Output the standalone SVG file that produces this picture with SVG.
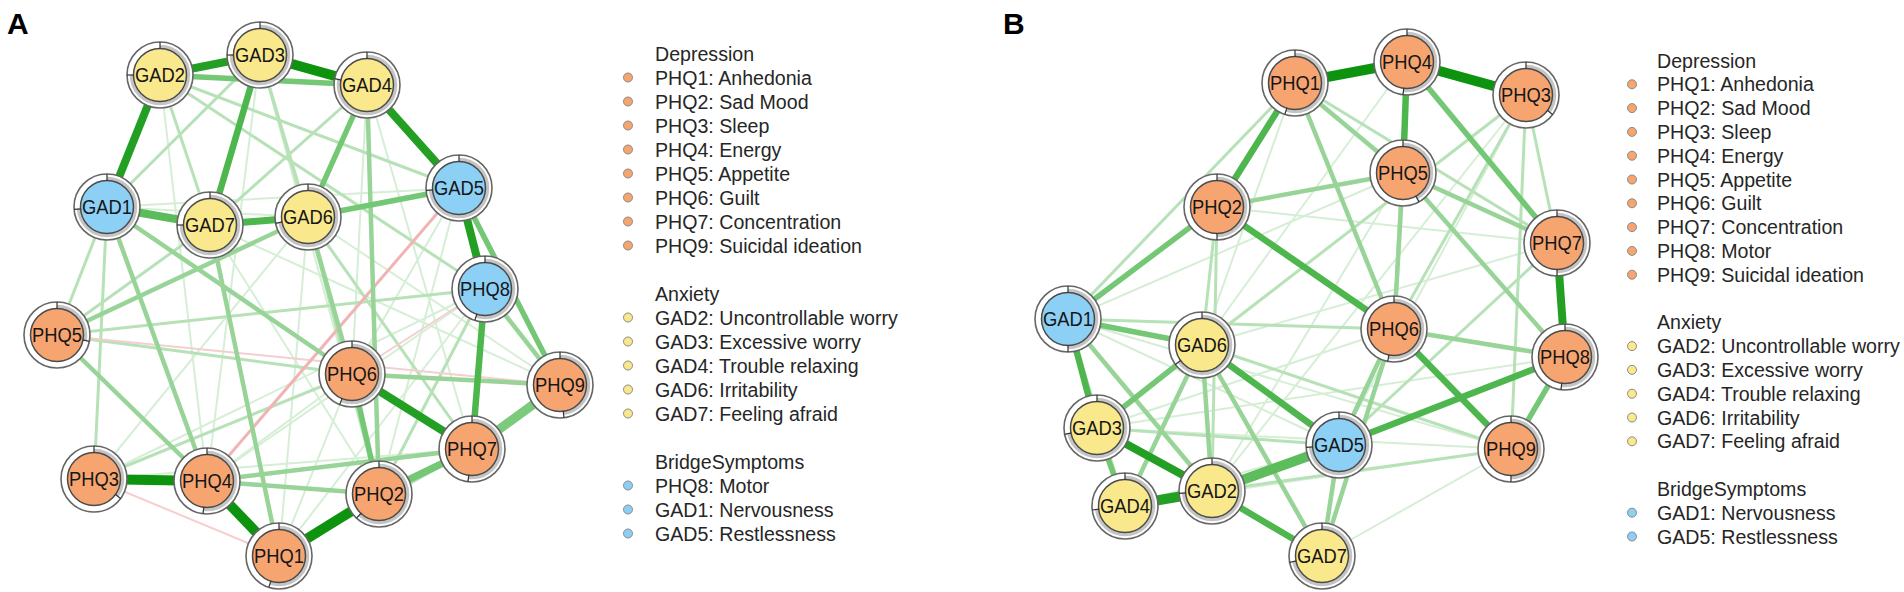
<svg xmlns="http://www.w3.org/2000/svg" width="1904" height="592" viewBox="0 0 1904 592">
<style>
.lbl{font-family:"Liberation Sans",Arial,sans-serif;font-size:20px;fill:#161616;text-anchor:middle}
.leg{font-family:"Liberation Sans",Arial,sans-serif;font-size:19.6px;fill:#262626}
.panel{font-family:"Liberation Sans",Arial,sans-serif;font-size:30px;font-weight:bold;fill:#000}
.outer{fill:#fff;stroke:#666;stroke-width:1.6}
.pie{fill:none;stroke:#c4c4c4;stroke-width:3.5}
.core{stroke:#4a4a4a;stroke-width:1.5}
.dep .core,.ld.dep{fill:#F6A571}
.anx .core,.ld.anx{fill:#FAE88C}
.brg .core,.ld.brg{fill:#8DD0F6}
.ld{stroke:#8a8a8a;stroke-width:1}
.tick{stroke:#333;stroke-width:1.2}
.e0{stroke:#d6eed6;stroke-width:2}
.e1{stroke:#b7e2b7;stroke-width:3}
.e2{stroke:#98d498;stroke-width:4.5}
.e3l{stroke:#74c774;stroke-width:5.5}
.e3{stroke:#4db64d;stroke-width:6.5}
.e4{stroke:#23a023;stroke-width:8}
.e5{stroke:#0e930e;stroke-width:10}
.n1{stroke:#f0b4b4;stroke-width:3}
.n0{stroke:#f5cfcf;stroke-width:2}
</style>

<text class="panel" x="7" y="34">A</text>
<text class="panel" x="1003" y="34">B</text>

<g id="edges-A">
<line class="e0" x1="107" y1="207" x2="308" y2="217"/>
<line class="e0" x1="107" y1="207" x2="459" y2="188"/>
<line class="e0" x1="260" y1="55" x2="379" y2="494"/>
<line class="e0" x1="367" y1="85" x2="472" y2="449"/>
<line class="e0" x1="308" y1="217" x2="560" y2="385"/>
<line class="e0" x1="94" y1="479" x2="485" y2="289"/>
<line class="e0" x1="207" y1="481" x2="352" y2="374"/>
<line class="e0" x1="94" y1="479" x2="472" y2="449"/>
<line class="e0" x1="210" y1="225" x2="379" y2="494"/>
<line class="e0" x1="308" y1="217" x2="279" y2="556"/>
<line class="e0" x1="279" y1="556" x2="352" y2="374"/>
<line class="e0" x1="459" y1="188" x2="352" y2="374"/>
<line class="e0" x1="459" y1="188" x2="379" y2="494"/>
<line class="e0" x1="367" y1="85" x2="352" y2="374"/>
<line class="e0" x1="260" y1="55" x2="207" y2="481"/>
<line class="e0" x1="94" y1="479" x2="308" y2="217"/>
<line class="e0" x1="160" y1="75" x2="207" y2="481"/>
<line class="e0" x1="207" y1="481" x2="485" y2="289"/>
<line class="e0" x1="210" y1="225" x2="560" y2="385"/>
<line class="e0" x1="279" y1="556" x2="485" y2="289"/>
<line class="e1" x1="260" y1="55" x2="107" y2="207"/>
<line class="e1" x1="160" y1="75" x2="210" y2="225"/>
<line class="e1" x1="260" y1="55" x2="308" y2="217"/>
<line class="e1" x1="367" y1="85" x2="210" y2="225"/>
<line class="e1" x1="107" y1="207" x2="94" y2="479"/>
<line class="e1" x1="107" y1="207" x2="57" y2="335"/>
<line class="e1" x1="57" y1="335" x2="352" y2="374"/>
<line class="e1" x1="94" y1="479" x2="352" y2="374"/>
<line class="e1" x1="160" y1="75" x2="485" y2="289"/>
<line class="e1" x1="485" y1="289" x2="379" y2="494"/>
<line class="e1" x1="57" y1="335" x2="210" y2="225"/>
<line class="e1" x1="308" y1="217" x2="379" y2="494"/>
<line class="e1" x1="160" y1="75" x2="459" y2="188"/>
<line class="e1" x1="260" y1="55" x2="352" y2="374"/>
<line class="e1" x1="279" y1="556" x2="472" y2="449"/>
<line class="e1" x1="57" y1="335" x2="485" y2="289"/>
<line class="e1" x1="308" y1="217" x2="472" y2="449"/>
<line class="n0" x1="94" y1="479" x2="279" y2="556"/>
<line class="n0" x1="57" y1="335" x2="560" y2="385"/>
<line class="n0" x1="485" y1="289" x2="352" y2="374"/>
<line class="n1" x1="459" y1="188" x2="207" y2="481"/>
<line class="e2" x1="485" y1="289" x2="560" y2="385"/>
<line class="e2" x1="308" y1="217" x2="57" y2="335"/>
<line class="e2" x1="207" y1="481" x2="472" y2="449"/>
<line class="e2" x1="352" y1="374" x2="560" y2="385"/>
<line class="e2" x1="107" y1="207" x2="352" y2="374"/>
<line class="e2" x1="367" y1="85" x2="379" y2="494"/>
<line class="e2" x1="210" y1="225" x2="279" y2="556"/>
<line class="e2" x1="107" y1="207" x2="207" y2="481"/>
<line class="e2" x1="308" y1="217" x2="352" y2="374"/>
<line class="e2" x1="207" y1="481" x2="379" y2="494"/>
<line class="e2" x1="57" y1="335" x2="207" y2="481"/>
<line class="e3l" x1="308" y1="217" x2="459" y2="188"/>
<line class="e3l" x1="367" y1="85" x2="308" y2="217"/>
<line class="e3l" x1="160" y1="75" x2="367" y2="85"/>
<line class="e3l" x1="459" y1="188" x2="560" y2="385"/>
<line class="e3l" x1="379" y1="494" x2="472" y2="449" style="stroke-width:7"/>
<line class="e3l" x1="352" y1="374" x2="379" y2="494"/>
<line class="e3" x1="260" y1="55" x2="210" y2="225"/>
<line class="e3" x1="107" y1="207" x2="210" y2="225" style="stroke-width:8;stroke:#5cbc5c"/>
<line class="e3" x1="210" y1="225" x2="308" y2="217" style="stroke-width:7"/>
<line class="e3" x1="485" y1="289" x2="472" y2="449"/>
<line class="e3" x1="560" y1="385" x2="472" y2="449" style="stroke-width:9;stroke:#7ccb7c"/>
<line class="e4" x1="160" y1="75" x2="260" y2="55"/>
<line class="e4" x1="160" y1="75" x2="107" y2="207"/>
<line class="e4" x1="367" y1="85" x2="459" y2="188"/>
<line class="e4" x1="352" y1="374" x2="472" y2="449"/>
<line class="e4" x1="459" y1="188" x2="485" y2="289"/>
<line class="e5" x1="260" y1="55" x2="367" y2="85"/>
<line class="e5" x1="94" y1="479" x2="207" y2="481"/>
<line class="e5" x1="207" y1="481" x2="279" y2="556"/>
<line class="e5" x1="279" y1="556" x2="379" y2="494"/>
</g>

<g id="edges-B">
<line class="e0" x1="1526" y1="95" x2="1339" y2="445"/>
<line class="e0" x1="1407" y1="62" x2="1202" y2="345"/>
<line class="e0" x1="1068" y1="319" x2="1339" y2="445"/>
<line class="e0" x1="1068" y1="319" x2="1511" y2="449"/>
<line class="e0" x1="1097" y1="428" x2="1511" y2="449"/>
<line class="e0" x1="1097" y1="428" x2="1394" y2="329"/>
<line class="e0" x1="1125" y1="506" x2="1339" y2="445"/>
<line class="e0" x1="1322" y1="556" x2="1511" y2="449"/>
<line class="e0" x1="1403" y1="173" x2="1212" y2="491"/>
<line class="e0" x1="1295" y1="83" x2="1202" y2="345"/>
<line class="e0" x1="1403" y1="173" x2="1068" y2="319"/>
<line class="e0" x1="1557" y1="243" x2="1202" y2="345"/>
<line class="e0" x1="1565" y1="357" x2="1097" y2="428"/>
<line class="e0" x1="1217" y1="207" x2="1557" y2="243"/>
<line class="e0" x1="1526" y1="95" x2="1212" y2="491"/>
<line class="e0" x1="1511" y1="449" x2="1125" y2="506"/>
<line class="e1" x1="1526" y1="95" x2="1557" y2="243"/>
<line class="e1" x1="1295" y1="83" x2="1557" y2="243"/>
<line class="e1" x1="1526" y1="95" x2="1394" y2="329"/>
<line class="e1" x1="1526" y1="95" x2="1511" y2="449"/>
<line class="e1" x1="1557" y1="243" x2="1339" y2="445"/>
<line class="e1" x1="1068" y1="319" x2="1295" y2="83"/>
<line class="e1" x1="1068" y1="319" x2="1394" y2="329"/>
<line class="e1" x1="1217" y1="207" x2="1202" y2="345"/>
<line class="e1" x1="1217" y1="207" x2="1212" y2="491"/>
<line class="e1" x1="1097" y1="428" x2="1339" y2="445"/>
<line class="e1" x1="1068" y1="319" x2="1125" y2="506"/>
<line class="e1" x1="1511" y1="449" x2="1212" y2="491"/>
<line class="e1" x1="1407" y1="62" x2="1394" y2="329"/>
<line class="e1" x1="1511" y1="449" x2="1202" y2="345"/>
<line class="e1" x1="1526" y1="95" x2="1202" y2="345"/>
<line class="e2" x1="1202" y1="345" x2="1125" y2="506"/>
<line class="e2" x1="1068" y1="319" x2="1212" y2="491"/>
<line class="e2" x1="1339" y1="445" x2="1322" y2="556"/>
<line class="e2" x1="1394" y1="329" x2="1322" y2="556"/>
<line class="e2" x1="1339" y1="445" x2="1394" y2="329"/>
<line class="e2" x1="1403" y1="173" x2="1394" y2="329"/>
<line class="e2" x1="1403" y1="173" x2="1565" y2="357"/>
<line class="e2" x1="1403" y1="173" x2="1557" y2="243"/>
<line class="e2" x1="1295" y1="83" x2="1403" y2="173"/>
<line class="e2" x1="1295" y1="83" x2="1394" y2="329"/>
<line class="e2" x1="1217" y1="207" x2="1403" y2="173"/>
<line class="e2" x1="1394" y1="329" x2="1565" y2="357"/>
<line class="e2" x1="1202" y1="345" x2="1212" y2="491"/>
<line class="e2" x1="1202" y1="345" x2="1322" y2="556"/>
<line class="e3l" x1="1217" y1="207" x2="1068" y2="319"/>
<line class="e3l" x1="1407" y1="62" x2="1557" y2="243"/>
<line class="e3l" x1="1565" y1="357" x2="1511" y2="449"/>
<line class="e3l" x1="1068" y1="319" x2="1202" y2="345"/>
<line class="e3l" x1="1202" y1="345" x2="1097" y2="428"/>
<line class="e3l" x1="1097" y1="428" x2="1125" y2="506"/>
<line class="e3" x1="1407" y1="62" x2="1403" y2="173"/>
<line class="e3" x1="1394" y1="329" x2="1511" y2="449"/>
<line class="e3" x1="1212" y1="491" x2="1339" y2="445" style="stroke-width:10;stroke:#5dbd5d"/>
<line class="e3" x1="1295" y1="83" x2="1217" y2="207"/>
<line class="e3" x1="1068" y1="319" x2="1097" y2="428"/>
<line class="e3" x1="1212" y1="491" x2="1322" y2="556"/>
<line class="e3" x1="1202" y1="345" x2="1339" y2="445"/>
<line class="e3" x1="1339" y1="445" x2="1565" y2="357"/>
<line class="e3" x1="1217" y1="207" x2="1394" y2="329"/>
<line class="e4" x1="1557" y1="243" x2="1565" y2="357"/>
<line class="e4" x1="1125" y1="506" x2="1212" y2="491" style="stroke-width:10"/>
<line class="e4" x1="1097" y1="428" x2="1212" y2="491"/>
<line class="e5" x1="1295" y1="83" x2="1407" y2="62"/>
<line class="e5" x1="1407" y1="62" x2="1526" y2="95"/>
</g>

<!-- Panel A nodes -->
<g id="A-GAD2" class="anx" transform="translate(160,75)"><circle class="outer" r="33"/><circle class="pie" r="28.5" pathLength="100" stroke-dasharray="75 100" transform="rotate(-90)"/><circle class="core" r="26.5"/><line class="tick" y1="-26" y2="-33"/><line class="tick" y1="-26" y2="-33" transform="rotate(270)"/><text class="lbl" y="7" textLength="50" lengthAdjust="spacingAndGlyphs">GAD2</text></g>
<g id="A-GAD3" class="anx" transform="translate(260,55)"><circle class="outer" r="33"/><circle class="pie" r="28.5" pathLength="100" stroke-dasharray="75 100" transform="rotate(-90)"/><circle class="core" r="26.5"/><line class="tick" y1="-26" y2="-33"/><line class="tick" y1="-26" y2="-33" transform="rotate(270)"/><text class="lbl" y="7" textLength="50" lengthAdjust="spacingAndGlyphs">GAD3</text></g>
<g id="A-GAD4" class="anx" transform="translate(367,85)"><circle class="outer" r="33"/><circle class="pie" r="28.5" pathLength="100" stroke-dasharray="78 100" transform="rotate(-90)"/><circle class="core" r="26.5"/><line class="tick" y1="-26" y2="-33"/><line class="tick" y1="-26" y2="-33" transform="rotate(281)"/><text class="lbl" y="7" textLength="50" lengthAdjust="spacingAndGlyphs">GAD4</text></g>
<g id="A-GAD1" class="brg" transform="translate(107,207)"><circle class="outer" r="33"/><circle class="pie" r="28.5" pathLength="100" stroke-dasharray="74 100" transform="rotate(-90)"/><circle class="core" r="26.5"/><line class="tick" y1="-26" y2="-33"/><line class="tick" y1="-26" y2="-33" transform="rotate(266)"/><text class="lbl" y="7" textLength="50" lengthAdjust="spacingAndGlyphs">GAD1</text></g>
<g id="A-GAD7" class="anx" transform="translate(210,225)"><circle class="outer" r="33"/><circle class="pie" r="28.5" pathLength="100" stroke-dasharray="75 100" transform="rotate(-90)"/><circle class="core" r="26.5"/><line class="tick" y1="-26" y2="-33"/><line class="tick" y1="-26" y2="-33" transform="rotate(270)"/><text class="lbl" y="7" textLength="50" lengthAdjust="spacingAndGlyphs">GAD7</text></g>
<g id="A-GAD6" class="anx" transform="translate(308,217)"><circle class="outer" r="33"/><circle class="pie" r="28.5" pathLength="100" stroke-dasharray="72 100" transform="rotate(-90)"/><circle class="core" r="26.5"/><line class="tick" y1="-26" y2="-33"/><line class="tick" y1="-26" y2="-33" transform="rotate(259)"/><text class="lbl" y="7" textLength="50" lengthAdjust="spacingAndGlyphs">GAD6</text></g>
<g id="A-GAD5" class="brg" transform="translate(459,188)"><circle class="outer" r="33"/><circle class="pie" r="28.5" pathLength="100" stroke-dasharray="74 100" transform="rotate(-90)"/><circle class="core" r="26.5"/><line class="tick" y1="-26" y2="-33"/><line class="tick" y1="-26" y2="-33" transform="rotate(266)"/><text class="lbl" y="7" textLength="50" lengthAdjust="spacingAndGlyphs">GAD5</text></g>
<g id="A-PHQ8" class="brg" transform="translate(485,289)"><circle class="outer" r="33"/><circle class="pie" r="28.5" pathLength="100" stroke-dasharray="55 100" transform="rotate(-90)"/><circle class="core" r="26.5"/><line class="tick" y1="-26" y2="-33"/><line class="tick" y1="-26" y2="-33" transform="rotate(198)"/><text class="lbl" y="7" textLength="50" lengthAdjust="spacingAndGlyphs">PHQ8</text></g>
<g id="A-PHQ5" class="dep" transform="translate(57,335)"><circle class="outer" r="33"/><circle class="pie" r="28.5" pathLength="100" stroke-dasharray="28 100" transform="rotate(-90)"/><circle class="core" r="26.5"/><line class="tick" y1="-26" y2="-33"/><line class="tick" y1="-26" y2="-33" transform="rotate(101)"/><text class="lbl" y="7" textLength="50" lengthAdjust="spacingAndGlyphs">PHQ5</text></g>
<g id="A-PHQ6" class="dep" transform="translate(352,374)"><circle class="outer" r="33"/><circle class="pie" r="28.5" pathLength="100" stroke-dasharray="56 100" transform="rotate(-90)"/><circle class="core" r="26.5"/><line class="tick" y1="-26" y2="-33"/><line class="tick" y1="-26" y2="-33" transform="rotate(202)"/><text class="lbl" y="7" textLength="50" lengthAdjust="spacingAndGlyphs">PHQ6</text></g>
<g id="A-PHQ9" class="dep" transform="translate(560,385)"><circle class="outer" r="33"/><circle class="pie" r="28.5" pathLength="100" stroke-dasharray="48 100" transform="rotate(-90)"/><circle class="core" r="26.5"/><line class="tick" y1="-26" y2="-33"/><line class="tick" y1="-26" y2="-33" transform="rotate(173)"/><text class="lbl" y="7" textLength="50" lengthAdjust="spacingAndGlyphs">PHQ9</text></g>
<g id="A-PHQ7" class="dep" transform="translate(472,449)"><circle class="outer" r="33"/><circle class="pie" r="28.5" pathLength="100" stroke-dasharray="52 100" transform="rotate(-90)"/><circle class="core" r="26.5"/><line class="tick" y1="-26" y2="-33"/><line class="tick" y1="-26" y2="-33" transform="rotate(187)"/><text class="lbl" y="7" textLength="50" lengthAdjust="spacingAndGlyphs">PHQ7</text></g>
<g id="A-PHQ3" class="dep" transform="translate(94,479)"><circle class="outer" r="33"/><circle class="pie" r="28.5" pathLength="100" stroke-dasharray="35 100" transform="rotate(-90)"/><circle class="core" r="26.5"/><line class="tick" y1="-26" y2="-33"/><line class="tick" y1="-26" y2="-33" transform="rotate(126)"/><text class="lbl" y="7" textLength="50" lengthAdjust="spacingAndGlyphs">PHQ3</text></g>
<g id="A-PHQ4" class="dep" transform="translate(207,481)"><circle class="outer" r="33"/><circle class="pie" r="28.5" pathLength="100" stroke-dasharray="52 100" transform="rotate(-90)"/><circle class="core" r="26.5"/><line class="tick" y1="-26" y2="-33"/><line class="tick" y1="-26" y2="-33" transform="rotate(187)"/><text class="lbl" y="7" textLength="50" lengthAdjust="spacingAndGlyphs">PHQ4</text></g>
<g id="A-PHQ2" class="dep" transform="translate(379,494)"><circle class="outer" r="33"/><circle class="pie" r="28.5" pathLength="100" stroke-dasharray="62 100" transform="rotate(-90)"/><circle class="core" r="26.5"/><line class="tick" y1="-26" y2="-33"/><line class="tick" y1="-26" y2="-33" transform="rotate(223)"/><text class="lbl" y="7" textLength="50" lengthAdjust="spacingAndGlyphs">PHQ2</text></g>
<g id="A-PHQ1" class="dep" transform="translate(279,556)"><circle class="outer" r="33"/><circle class="pie" r="28.5" pathLength="100" stroke-dasharray="55 100" transform="rotate(-90)"/><circle class="core" r="26.5"/><line class="tick" y1="-26" y2="-33"/><line class="tick" y1="-26" y2="-33" transform="rotate(198)"/><text class="lbl" y="7" textLength="50" lengthAdjust="spacingAndGlyphs">PHQ1</text></g>

<!-- Panel B nodes -->
<g id="B-PHQ1" class="dep" transform="translate(1295,83)"><circle class="outer" r="33"/><circle class="pie" r="28.5" pathLength="100" stroke-dasharray="55 100" transform="rotate(-90)"/><circle class="core" r="26.5"/><line class="tick" y1="-26" y2="-33"/><line class="tick" y1="-26" y2="-33" transform="rotate(198)"/><text class="lbl" y="7" textLength="50" lengthAdjust="spacingAndGlyphs">PHQ1</text></g>
<g id="B-PHQ4" class="dep" transform="translate(1407,62)"><circle class="outer" r="33"/><circle class="pie" r="28.5" pathLength="100" stroke-dasharray="52 100" transform="rotate(-90)"/><circle class="core" r="26.5"/><line class="tick" y1="-26" y2="-33"/><line class="tick" y1="-26" y2="-33" transform="rotate(187)"/><text class="lbl" y="7" textLength="50" lengthAdjust="spacingAndGlyphs">PHQ4</text></g>
<g id="B-PHQ3" class="dep" transform="translate(1526,95)"><circle class="outer" r="33"/><circle class="pie" r="28.5" pathLength="100" stroke-dasharray="35 100" transform="rotate(-90)"/><circle class="core" r="26.5"/><line class="tick" y1="-26" y2="-33"/><line class="tick" y1="-26" y2="-33" transform="rotate(126)"/><text class="lbl" y="7" textLength="50" lengthAdjust="spacingAndGlyphs">PHQ3</text></g>
<g id="B-PHQ5" class="dep" transform="translate(1403,173)"><circle class="outer" r="33"/><circle class="pie" r="28.5" pathLength="100" stroke-dasharray="42 100" transform="rotate(-90)"/><circle class="core" r="26.5"/><line class="tick" y1="-26" y2="-33"/><line class="tick" y1="-26" y2="-33" transform="rotate(151)"/><text class="lbl" y="7" textLength="50" lengthAdjust="spacingAndGlyphs">PHQ5</text></g>
<g id="B-PHQ2" class="dep" transform="translate(1217,207)"><circle class="outer" r="33"/><circle class="pie" r="28.5" pathLength="100" stroke-dasharray="50 100" transform="rotate(-90)"/><circle class="core" r="26.5"/><line class="tick" y1="-26" y2="-33"/><line class="tick" y1="-26" y2="-33" transform="rotate(180)"/><text class="lbl" y="7" textLength="50" lengthAdjust="spacingAndGlyphs">PHQ2</text></g>
<g id="B-PHQ7" class="dep" transform="translate(1557,243)"><circle class="outer" r="33"/><circle class="pie" r="28.5" pathLength="100" stroke-dasharray="50 100" transform="rotate(-90)"/><circle class="core" r="26.5"/><line class="tick" y1="-26" y2="-33"/><line class="tick" y1="-26" y2="-33" transform="rotate(180)"/><text class="lbl" y="7" textLength="50" lengthAdjust="spacingAndGlyphs">PHQ7</text></g>
<g id="B-PHQ6" class="dep" transform="translate(1394,329)"><circle class="outer" r="33"/><circle class="pie" r="28.5" pathLength="100" stroke-dasharray="53 100" transform="rotate(-90)"/><circle class="core" r="26.5"/><line class="tick" y1="-26" y2="-33"/><line class="tick" y1="-26" y2="-33" transform="rotate(191)"/><text class="lbl" y="7" textLength="50" lengthAdjust="spacingAndGlyphs">PHQ6</text></g>
<g id="B-PHQ8" class="dep" transform="translate(1565,357)"><circle class="outer" r="33"/><circle class="pie" r="28.5" pathLength="100" stroke-dasharray="52 100" transform="rotate(-90)"/><circle class="core" r="26.5"/><line class="tick" y1="-26" y2="-33"/><line class="tick" y1="-26" y2="-33" transform="rotate(187)"/><text class="lbl" y="7" textLength="50" lengthAdjust="spacingAndGlyphs">PHQ8</text></g>
<g id="B-GAD1" class="brg" transform="translate(1068,319)"><circle class="outer" r="33"/><circle class="pie" r="28.5" pathLength="100" stroke-dasharray="50 100" transform="rotate(-90)"/><circle class="core" r="26.5"/><line class="tick" y1="-26" y2="-33"/><line class="tick" y1="-26" y2="-33" transform="rotate(180)"/><text class="lbl" y="7" textLength="50" lengthAdjust="spacingAndGlyphs">GAD1</text></g>
<g id="B-GAD6" class="anx" transform="translate(1202,345)"><circle class="outer" r="33"/><circle class="pie" r="28.5" pathLength="100" stroke-dasharray="65 100" transform="rotate(-90)"/><circle class="core" r="26.5"/><line class="tick" y1="-26" y2="-33"/><line class="tick" y1="-26" y2="-33" transform="rotate(234)"/><text class="lbl" y="7" textLength="50" lengthAdjust="spacingAndGlyphs">GAD6</text></g>
<g id="B-GAD3" class="anx" transform="translate(1097,428)"><circle class="outer" r="33"/><circle class="pie" r="28.5" pathLength="100" stroke-dasharray="72 100" transform="rotate(-90)"/><circle class="core" r="26.5"/><line class="tick" y1="-26" y2="-33"/><line class="tick" y1="-26" y2="-33" transform="rotate(259)"/><text class="lbl" y="7" textLength="50" lengthAdjust="spacingAndGlyphs">GAD3</text></g>
<g id="B-GAD5" class="brg" transform="translate(1339,445)"><circle class="outer" r="33"/><circle class="pie" r="28.5" pathLength="100" stroke-dasharray="74 100" transform="rotate(-90)"/><circle class="core" r="26.5"/><line class="tick" y1="-26" y2="-33"/><line class="tick" y1="-26" y2="-33" transform="rotate(266)"/><text class="lbl" y="7" textLength="50" lengthAdjust="spacingAndGlyphs">GAD5</text></g>
<g id="B-PHQ9" class="dep" transform="translate(1511,449)"><circle class="outer" r="33"/><circle class="pie" r="28.5" pathLength="100" stroke-dasharray="50 100" transform="rotate(-90)"/><circle class="core" r="26.5"/><line class="tick" y1="-26" y2="-33"/><line class="tick" y1="-26" y2="-33" transform="rotate(180)"/><text class="lbl" y="7" textLength="50" lengthAdjust="spacingAndGlyphs">PHQ9</text></g>
<g id="B-GAD4" class="anx" transform="translate(1125,506)"><circle class="outer" r="33"/><circle class="pie" r="28.5" pathLength="100" stroke-dasharray="73 100" transform="rotate(-90)"/><circle class="core" r="26.5"/><line class="tick" y1="-26" y2="-33"/><line class="tick" y1="-26" y2="-33" transform="rotate(263)"/><text class="lbl" y="7" textLength="50" lengthAdjust="spacingAndGlyphs">GAD4</text></g>
<g id="B-GAD2" class="anx" transform="translate(1212,491)"><circle class="outer" r="33"/><circle class="pie" r="28.5" pathLength="100" stroke-dasharray="74 100" transform="rotate(-90)"/><circle class="core" r="26.5"/><line class="tick" y1="-26" y2="-33"/><line class="tick" y1="-26" y2="-33" transform="rotate(266)"/><text class="lbl" y="7" textLength="50" lengthAdjust="spacingAndGlyphs">GAD2</text></g>
<g id="B-GAD7" class="anx" transform="translate(1322,556)"><circle class="outer" r="33"/><circle class="pie" r="28.5" pathLength="100" stroke-dasharray="72 100" transform="rotate(-90)"/><circle class="core" r="26.5"/><line class="tick" y1="-26" y2="-33"/><line class="tick" y1="-26" y2="-33" transform="rotate(259)"/><text class="lbl" y="7" textLength="50" lengthAdjust="spacingAndGlyphs">GAD7</text></g>

<!-- Legend A -->
<g id="legend-A">
<text class="leg" x="655" y="60.5">Depression</text>
<circle class="ld dep" cx="628" cy="77.5" r="4.5"/><text class="leg" x="655" y="84.5">PHQ1: Anhedonia</text>
<circle class="ld dep" cx="628" cy="101.5" r="4.5"/><text class="leg" x="655" y="108.5">PHQ2: Sad Mood</text>
<circle class="ld dep" cx="628" cy="125.5" r="4.5"/><text class="leg" x="655" y="132.5">PHQ3: Sleep</text>
<circle class="ld dep" cx="628" cy="149.5" r="4.5"/><text class="leg" x="655" y="156.5">PHQ4: Energy</text>
<circle class="ld dep" cx="628" cy="173.5" r="4.5"/><text class="leg" x="655" y="180.5">PHQ5: Appetite</text>
<circle class="ld dep" cx="628" cy="197.5" r="4.5"/><text class="leg" x="655" y="204.5">PHQ6: Guilt</text>
<circle class="ld dep" cx="628" cy="221.5" r="4.5"/><text class="leg" x="655" y="228.5">PHQ7: Concentration</text>
<circle class="ld dep" cx="628" cy="245.5" r="4.5"/><text class="leg" x="655" y="252.5">PHQ9: Suicidal ideation</text>
<text class="leg" x="655" y="300.5">Anxiety</text>
<circle class="ld anx" cx="628" cy="317.5" r="4.5"/><text class="leg" x="655" y="324.5">GAD2: Uncontrollable worry</text>
<circle class="ld anx" cx="628" cy="341.5" r="4.5"/><text class="leg" x="655" y="348.5">GAD3: Excessive worry</text>
<circle class="ld anx" cx="628" cy="365.5" r="4.5"/><text class="leg" x="655" y="372.5">GAD4: Trouble relaxing</text>
<circle class="ld anx" cx="628" cy="389.5" r="4.5"/><text class="leg" x="655" y="396.5">GAD6: Irritability</text>
<circle class="ld anx" cx="628" cy="413.5" r="4.5"/><text class="leg" x="655" y="420.5">GAD7: Feeling afraid</text>
<text class="leg" x="655" y="468.5">BridgeSymptoms</text>
<circle class="ld brg" cx="628" cy="485.5" r="4.5"/><text class="leg" x="655" y="492.5">PHQ8: Motor</text>
<circle class="ld brg" cx="628" cy="509.5" r="4.5"/><text class="leg" x="655" y="516.5">GAD1: Nervousness</text>
<circle class="ld brg" cx="628" cy="533.5" r="4.5"/><text class="leg" x="655" y="540.5">GAD5: Restlessness</text>
</g>

<!-- Legend B -->
<g id="legend-B">
<text class="leg" x="1657" y="67.5">Depression</text>
<circle class="ld dep" cx="1632" cy="84.3" r="4.5"/><text class="leg" x="1657" y="91.3">PHQ1: Anhedonia</text>
<circle class="ld dep" cx="1632" cy="108.1" r="4.5"/><text class="leg" x="1657" y="115.1">PHQ2: Sad Mood</text>
<circle class="ld dep" cx="1632" cy="131.9" r="4.5"/><text class="leg" x="1657" y="138.9">PHQ3: Sleep</text>
<circle class="ld dep" cx="1632" cy="155.7" r="4.5"/><text class="leg" x="1657" y="162.7">PHQ4: Energy</text>
<circle class="ld dep" cx="1632" cy="179.5" r="4.5"/><text class="leg" x="1657" y="186.5">PHQ5: Appetite</text>
<circle class="ld dep" cx="1632" cy="203.3" r="4.5"/><text class="leg" x="1657" y="210.3">PHQ6: Guilt</text>
<circle class="ld dep" cx="1632" cy="227.1" r="4.5"/><text class="leg" x="1657" y="234.1">PHQ7: Concentration</text>
<circle class="ld dep" cx="1632" cy="250.9" r="4.5"/><text class="leg" x="1657" y="257.9">PHQ8: Motor</text>
<circle class="ld dep" cx="1632" cy="274.7" r="4.5"/><text class="leg" x="1657" y="281.7">PHQ9: Suicidal ideation</text>
<text class="leg" x="1657" y="329.3">Anxiety</text>
<circle class="ld anx" cx="1632" cy="346.1" r="4.5"/><text class="leg" x="1657" y="353.1">GAD2: Uncontrollable worry</text>
<circle class="ld anx" cx="1632" cy="369.9" r="4.5"/><text class="leg" x="1657" y="376.9">GAD3: Excessive worry</text>
<circle class="ld anx" cx="1632" cy="393.7" r="4.5"/><text class="leg" x="1657" y="400.7">GAD4: Trouble relaxing</text>
<circle class="ld anx" cx="1632" cy="417.5" r="4.5"/><text class="leg" x="1657" y="424.5">GAD6: Irritability</text>
<circle class="ld anx" cx="1632" cy="441.3" r="4.5"/><text class="leg" x="1657" y="448.3">GAD7: Feeling afraid</text>
<text class="leg" x="1657" y="495.9">BridgeSymptoms</text>
<circle class="ld brg" cx="1632" cy="512.7" r="4.5"/><text class="leg" x="1657" y="519.7">GAD1: Nervousness</text>
<circle class="ld brg" cx="1632" cy="536.5" r="4.5"/><text class="leg" x="1657" y="543.5">GAD5: Restlessness</text>
</g>
</svg>
